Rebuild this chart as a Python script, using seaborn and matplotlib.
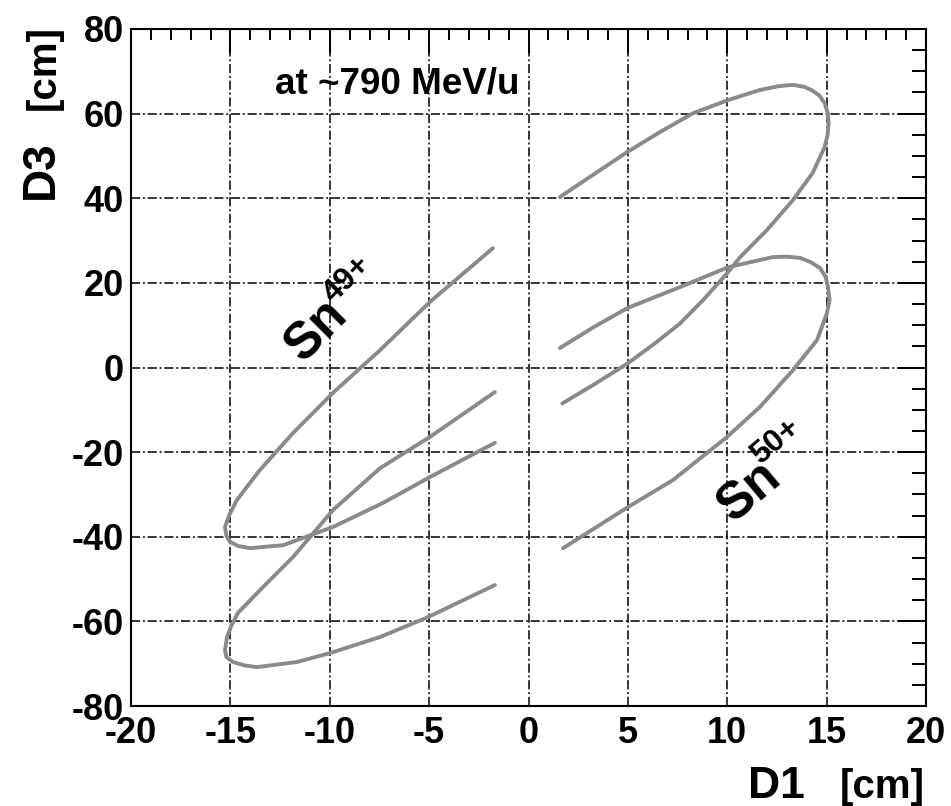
import matplotlib
matplotlib.use("Agg")
import matplotlib.pyplot as plt
import numpy as np
import pandas as pd
import seaborn as sns
from matplotlib.ticker import MultipleLocator

# ---- data (D1 [cm], D3 [cm]) ----
sn50_upper_x = [1.58, 3.3, 4.96, 6.6, 8.28, 10.04, 11.65, 12.6, 13.31, 13.9, 14.3, 14.65, 14.9,
                15.05, 15.1, 15.05, 14.9, 14.3, 13.31, 12.0, 10.65, 10.0, 8.8, 7.6, 6.3, 5.0,
                3.3, 1.7]
sn50_upper_y = [40.3, 45.7, 50.9, 55.6, 60.1, 63.2, 65.6, 66.5, 66.8, 66.3, 65.4, 64.2, 62.5,
                60.2, 57.8, 55.0, 52.1, 46.0, 39.6, 32.5, 26.1, 22.3, 16.0, 10.3, 5.5, 1.0,
                -4.0, -8.5]

sn50_lower_x = [1.58, 3.3, 5.0, 7.62, 10.04, 12.3, 13.0, 13.66, 14.2, 14.67, 14.95, 15.07,
                15.15, 15.02, 14.52, 13.31, 11.65, 9.99, 7.27, 5.0, 1.74]
sn50_lower_y = [4.6, 9.6, 14.1, 19.0, 23.7, 26.1, 26.2, 25.9, 24.9, 23.5, 21.4, 19.0,
                16.0, 12.9, 6.5, -0.6, -9.3, -16.4, -26.6, -33.0, -42.7]

sn49_upper_x = [-1.79, -4.96, -7.47, -9.84, -11.85, -13.51, -14.67, -15.05, -15.27, -15.2,
                -15.02, -14.6, -14.01, -12.35, -9.84, -7.32, -4.96, -1.69]
sn49_upper_y = [28.2, 15.5, 4.1, -6.0, -15.5, -24.2, -31.3, -34.8, -37.7, -39.8,
                -41.2, -42.2, -42.7, -42.0, -37.7, -32.0, -25.9, -17.8]

sn49_lower_x = [-1.69, -4.96, -7.47, -9.84, -11.85, -13.36, -14.62, -14.95, -15.17, -15.27,
                -15.2, -14.87, -14.3, -13.66, -11.65, -9.99, -7.47, -5.06, -1.69]
sn49_lower_y = [-5.8, -16.4, -23.8, -33.7, -44.8, -51.9, -58.0, -61.0, -63.7, -66.8,
                -68.4, -69.6, -70.4, -70.8, -69.6, -67.5, -63.7, -59.0, -51.4]

x_ticks = [-20, -15, -10, -5, 0, 5, 10, 15, 20]
y_ticks = [-80, -60, -40, -20, 0, 20, 40, 60, 80]

frames = []
for name, xs, ys in [("sn50_upper", sn50_upper_x, sn50_upper_y),
                     ("sn50_lower", sn50_lower_x, sn50_lower_y),
                     ("sn49_upper", sn49_upper_x, sn49_upper_y),
                     ("sn49_lower", sn49_lower_x, sn49_lower_y)]:
    frames.append(pd.DataFrame({"D1": xs, "D3": ys, "branch": name}))
df = pd.concat(frames, ignore_index=True)

# ---- style ----
sns.set_theme(style="white")
plt.rcParams["font.family"] = ["Liberation Sans", "DejaVu Sans"]
plt.rcParams["axes.unicode_minus"] = False
plt.rcParams["text.color"] = "black"
plt.rcParams["xtick.color"] = "black"
plt.rcParams["ytick.color"] = "black"
plt.rcParams["xtick.labelcolor"] = "black"
plt.rcParams["ytick.labelcolor"] = "black"

W, H = 951, 806
fig = plt.figure(figsize=(W / 100, H / 100), dpi=100)
ax = fig.add_axes([131 / W, 1 - 706 / H, (926 - 131) / W, (706 - 29) / H])

ax.set_axisbelow(True)
ax.grid(True, which="major", color="black", linewidth=1.1,
        linestyle=(0, (6, 1.8, 1.3, 1.8)))

sns.lineplot(data=df, x="D1", y="D3", units="branch", estimator=None, sort=False,
             color="#8a8a8a", linewidth=2.8, ax=ax, legend=False,
             solid_joinstyle="round", solid_capstyle="round")

ax.set_xlim(-20, 20)
ax.set_ylim(-80, 80)
ax.set_xticks(x_ticks)
ax.set_yticks(y_ticks)
ax.set_xticklabels([str(v) for v in x_ticks])
ax.set_yticklabels([str(v) for v in y_ticks])
ax.xaxis.set_minor_locator(MultipleLocator(1))
ax.yaxis.set_minor_locator(MultipleLocator(5))
ax.set_xlabel("")
ax.set_ylabel("")

for sp in ax.spines.values():
    sp.set_color("black")
    sp.set_linewidth(1.5)

ax.tick_params(which="both", direction="in", top=True, right=True, color="black", width=1.4)
ax.tick_params(axis="x", which="major", length=17, pad=7)
ax.tick_params(axis="x", which="minor", length=8)
ax.tick_params(axis="y", which="major", length=20, pad=5)
ax.tick_params(axis="y", which="minor", length=10)
for lab in ax.get_xticklabels() + ax.get_yticklabels():
    lab.set_fontsize(26)
    lab.set_fontweight("bold")
    lab.set_color("black")

def fx(px):
    return px / W

def fy(py):
    return 1 - py / H

# axis titles
fig.text(fx(805), fy(798), "D1", fontsize=32, fontweight="bold", ha="right", va="baseline")
fig.text(fx(925), fy(798), "[cm]", fontsize=29, fontweight="bold", ha="right", va="baseline")
fig.text(fx(53), fy(199), "D3", fontsize=33, fontweight="bold", rotation=90,
         rotation_mode="anchor", ha="left", va="baseline")
fig.text(fx(55), fy(25), "[cm]", fontsize=29, fontweight="bold", rotation=90,
         rotation_mode="anchor", ha="right", va="baseline")

# annotations
fig.text(fx(275), fy(94), "at ~790 MeV/u", fontsize=26.5, fontweight="bold",
         ha="left", va="baseline")

fig.text(fx(303), fy(364), "Sn", fontsize=37, fontweight="bold", rotation=45,
         rotation_mode="anchor", ha="left", va="baseline")
fig.text(fx(334), fy(304), "49+", fontsize=23, fontweight="bold", rotation=45,
         rotation_mode="anchor", ha="left", va="baseline")

fig.text(fx(733), fy(524), "Sn", fontsize=37, fontweight="bold", rotation=40,
         rotation_mode="anchor", ha="left", va="baseline")
fig.text(fx(760), fy(465), "50+", fontsize=23, fontweight="bold", rotation=40,
         rotation_mode="anchor", ha="left", va="baseline")

fig.savefig("out.png", dpi=100)
